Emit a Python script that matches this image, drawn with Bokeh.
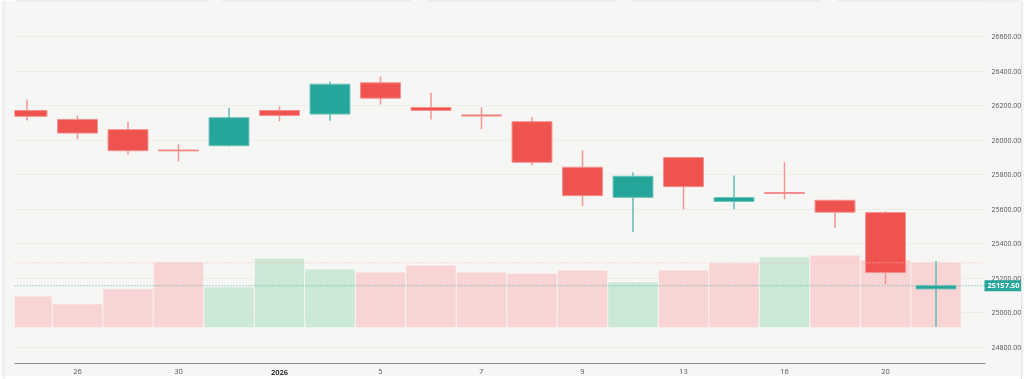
from bokeh.plotting import figure
from bokeh.models import (Range1d, FixedTicker, NumeralTickFormatter,
                          Span, ColumnDataSource)
from bokeh.core.properties import value
from bokeh.embed import file_html
from bokeh.resources import INLINE

# ---- data ----
idx = list(range(19))
opens  = [26172, 26120, 26061, 25943, 25968, 26172, 26151, 26332, 26189, 26146,
          26107, 25843, 25669, 25899, 25645, 25697, 25652, 25581, 25139]
highs  = [26236, 26143, 26107, 25976, 26188, 26195, 26340, 26369, 26275, 26190,
          26134, 25941, 25814, 25903, 25795, 25872, 25655, 25588, 25301]
lows   = [26114, 26005, 25916, 25876, 25964, 26109, 26113, 26207, 26120, 26064,
          25853, 25619, 25469, 25600, 25600, 25658, 25492, 25168, 24920]
closes = [26138, 26041, 25939, 25938, 26130, 26143, 26324, 26243, 26172, 26140,
          25872, 25679, 25791, 25731, 25668, 25692, 25583, 25234, 25157.5]
volumes = [307, 230, 380, 647, 400, 687, 577, 547, 617, 547,
           534, 567, 450, 567, 640, 700, 717, 667, 644]
tick_idx = [1, 3, 5, 7, 9, 11, 13, 15, 17]
tick_labels = ["26", "30", "2026", "5", "7", "9", "13", "16", "20"]
year_label = "2026"
price_ticks = [24800, 25000, 25200, 25400, 25600, 25800, 26000, 26200, 26400, 26600]
last_price = closes[-1]

BG = "#f6f7f4"
UP = "#26a69a"
DOWN = "#ef5350"
UP_WICK = "#5fbdb3"
DOWN_WICK = "#f39492"
UP_VOL = "#cce8d6"
DOWN_VOL = "#f8d4d4"

# layout (pixels)
W, H = 1024, 379
FL, FW, FH = 14, 971, 363          # frame left, frame width, frame height
X_START, X_END = -0.2475, 18.98
Y_START, Y_END = 24707.4, 26808.4
SX = FW / (X_END - X_START)        # px per x unit
SY = FH / (Y_END - Y_START)        # px per price unit
TABS = [(16, 207), (222, 411), (427, 616), (632, 821), (837, 1020)]

up = [c >= o for o, c in zip(opens, closes)]
vol_up = [closes[0] >= opens[0]] + [closes[i] >= closes[i - 1] for i in range(1, len(closes))]

src = ColumnDataSource(dict(
    x=idx,
    top=[max(o, c) for o, c in zip(opens, closes)],
    bottom=[min(o, c) for o, c in zip(opens, closes)],
    high=highs, low=lows, vol=volumes,
    body_color=[UP if u else DOWN for u in up],
    edge_color=["#6cc3ba" if u else "#f48f8d" for u in up],
    wick_color=[UP_WICK if u else DOWN_WICK for u in up],
    vol_color=[UP_VOL if u else DOWN_VOL for u in vol_up],
))

p = figure(frame_width=FW, frame_height=FH, output_backend="svg", toolbar_location=None,
           x_range=Range1d(X_START, X_END), y_range=Range1d(Y_START, Y_END),
           y_axis_location="right",
           min_border_left=FL, min_border_right=0, min_border_top=0, min_border_bottom=0,
           background_fill_color=BG, border_fill_color=BG, outline_line_color=None,
           styles={"position": "fixed", "top": "0px", "left": "0px"})

p.extra_y_ranges = {"vol": Range1d(-363, 3267)}

# volume bars
p.vbar(x="x", top="vol", bottom=0, width=0.98, source=src, y_range_name="vol",
       fill_color="vol_color", line_color=None)

# wicks and bodies
p.segment(x0="x", x1="x", y0="low", y1="high", source=src, line_color="wick_color",
          line_width=1.5)
p.vbar(x="x", top="top", bottom="bottom", width=0.79, source=src,
       fill_color="body_color", line_color="edge_color", line_width=1)

# last-value lines
p.add_layout(Span(location=volumes[-1], dimension="width", y_range_name="vol",
                  line_color="#f2b9b9", line_dash="1 2", line_width=1))
p.add_layout(Span(location=last_price, dimension="width",
                  line_color=UP, line_dash="1 2", line_width=1, line_alpha=0.8))

# axes
yax = p.yaxis[0]
yax.ticker = FixedTicker(ticks=price_ticks)
yax.formatter = NumeralTickFormatter(format="0.00")
yax.axis_line_color = None
yax.major_tick_line_color = None
yax.minor_tick_line_color = None
yax.major_tick_out = 0
yax.major_tick_in = 0
yax.major_label_standoff = 6
yax.major_label_text_font = "Open Sans"
yax.major_label_text_font_size = "7px"
yax.major_label_text_color = "#555555"

xax = p.xaxis[0]
normal_ticks = [t for t, l in zip(tick_idx, tick_labels) if l != year_label]
xax.ticker = FixedTicker(ticks=normal_ticks)
xax.major_label_overrides = {t: l for t, l in zip(tick_idx, tick_labels) if l != year_label}
xax.axis_line_color = "#8c8c8c"
xax.axis_line_width = 1.2
xax.major_tick_line_color = None
xax.minor_tick_line_color = None
xax.major_tick_out = 0
xax.major_tick_in = 0
xax.major_label_standoff = 5
xax.major_label_text_font = "Open Sans"
xax.major_label_text_font_size = "7.5px"
xax.major_label_text_color = "#555555"

p.xgrid.grid_line_color = None
p.ygrid.ticker = FixedTicker(ticks=price_ticks)
p.ygrid.grid_line_color = "#eceeea"
p.ygrid.grid_line_width = 1

# ---- transparent overlay over the whole window, same scales extended to the edges ----
o = figure(frame_width=W, frame_height=H, output_backend="svg", toolbar_location=None,
           x_range=Range1d(X_START - FL / SX, X_START + (W - FL) / SX),
           y_range=Range1d(Y_START - (H - FH) / SY, Y_END),
           x_axis_type=None, y_axis_type=None,
           min_border_left=0, min_border_right=0, min_border_top=0, min_border_bottom=0,
           background_fill_alpha=0, border_fill_alpha=0, outline_line_color=None,
           styles={"position": "fixed", "top": "0px", "left": "0px"})
o.xgrid.visible = False
o.ygrid.visible = False

# panel edges and header tabs
o.add_layout(Span(location=X_START - (FL - 3.5) / SX, dimension="height",
                  line_color="#e3e5e2", line_width=1))
o.add_layout(Span(location=X_START + (1021 - FL) / SX, dimension="height",
                  line_color="#e3e5e2", line_width=1))
o.segment(x0=[X_START + (a - FL) / SX for a, b in TABS],
          x1=[X_START + (b - FL) / SX for a, b in TABS],
          y0=[Y_END] * len(TABS), y1=[Y_END] * len(TABS),
          line_color="#dfe1e4", line_width=2)

# current price tag
o.quad(left=[X_END - 1 / SX], right=[X_END + 36 / SX],
       bottom=[last_price - 5.5 / SY], top=[last_price + 5.5 / SY],
       fill_color=UP, line_color=None)
o.text(x=[X_END], y=[last_price], text=[f"{last_price:.2f}"], x_offset=2,
       text_align="left", text_baseline="middle", text_font=value("Open Sans"),
       text_font_size="7.5px", text_font_style="bold", text_color="white")

# bold year label on the time axis
o.text(x=[tick_idx[tick_labels.index(year_label)]], y=[Y_START - 8.5 / SY], text=[year_label],
       text_align="center", text_baseline="middle", text_font=value("Open Sans"),
       text_font_size="7.5px", text_font_style="bold", text_color="#333333")

open("out.html", "w").write(file_html([p, o], INLINE))
